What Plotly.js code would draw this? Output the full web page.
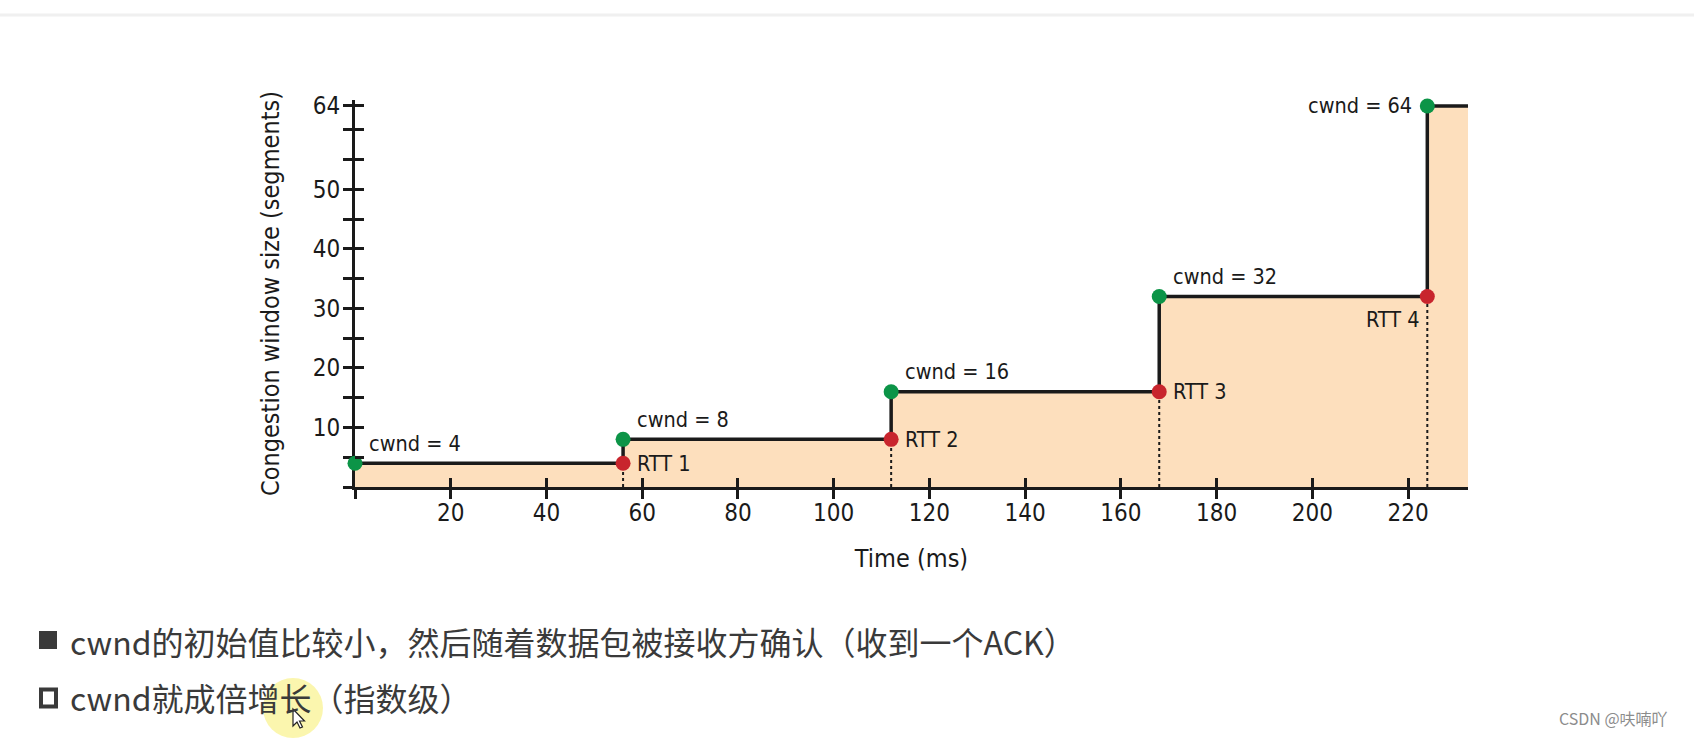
<!DOCTYPE html>
<html><head><meta charset="utf-8">
<script src="https://cdn.plot.ly/plotly-3.0.1.min.js"></script>
<style>html,body{margin:0;padding:0;background:#fff;}#chart{width:1694px;height:742px;}</style>
</head><body><div id="chart"></div>
<script>
// ---- data ----
const stepTimes = [0, 56, 112, 168, 224, 232.5];
const stepCwnd = [4, 8, 16, 32, 64, 64];
const cwndTimes = [0, 56, 112, 168, 224];
const cwndValues = [4, 8, 16, 32, 64];
const cwndLabels = ["cwnd = 4", "cwnd = 8", "cwnd = 16", "cwnd = 32", "cwnd = 64"];
const rttTimes = [56, 112, 168, 224];
const rttValues = [4, 8, 16, 32];
const rttLabels = ["RTT 1", "RTT 2", "RTT 3", "RTT 4"];
const xTickVals = [0, 20, 40, 60, 80, 100, 120, 140, 160, 180, 200, 220];
const xTickText = ["", "20", "40", "60", "80", "100", "120", "140", "160", "180", "200", "220"];
const yTickVals = [0, 5, 10, 15, 20, 25, 30, 35, 40, 45, 50, 55, 60, 64];
const yTickText = ["", "", "10", "", "20", "", "30", "", "40", "", "50", "", "", "64"];
const xTitle = "Time (ms)";
const yTitle = "Congestion window size (segments)";
const note1 = "cwnd的初始值比较小，然后随着数据包被接收方确认（收到一个ACK）";
const note2 = "cwnd就成倍增长（指数级）";
const watermark = "CSDN @呋喃吖";

// ---- layout geometry ----
const W = 1694, H = 742, ML = 355, MR = 226, MT = 100, MB = 255;
const PW = W - ML - MR, PH = H - MT - MB;
const px = v => (v - ML) / PW;
const py = v => (H - MB - v) / PH;
const xRange = [0, stepTimes[stepTimes.length - 1]];
const yRange = [0, 65];

const FONT = "'Liberation Sans Narrow','DejaVu Sans Condensed','Roboto Condensed',Roboto,sans-serif";
const CJK = "'Noto Sans CJK SC','Noto Sans',sans-serif";
const INK = "#1a1a1a";
const GREEN = "#0c9447";
const RED = "#c8252d";

const traces = [
  { // filled step area
    x: stepTimes, y: stepCwnd, xaxis: 'x', yaxis: 'y',
    type: 'scatter', mode: 'lines', line: { shape: 'hv', color: INK, width: 3.5 },
    fill: 'tozeroy', fillcolor: '#fddfbd', hoverinfo: 'skip', cliponaxis: false
  },
  { // dotted RTT guides
    x: rttTimes.flatMap(t => [t, t, null]),
    y: rttValues.flatMap(v => [0, v, null]),
    xaxis: 'x', yaxis: 'y', type: 'scatter', mode: 'lines',
    line: { color: INK, width: 2, dash: 'dot' }, hoverinfo: 'skip'
  },
  { // red RTT points
    x: rttTimes, y: rttValues, xaxis: 'x2', yaxis: 'y2', type: 'scatter', mode: 'markers',
    marker: { color: RED, size: 15 }, cliponaxis: false, hoverinfo: 'skip'
  },
  { // green cwnd points
    x: cwndTimes, y: cwndValues, xaxis: 'x2', yaxis: 'y2', type: 'scatter', mode: 'markers',
    marker: { color: GREEN, size: 15 }, cliponaxis: false, hoverinfo: 'skip'
  }
];

const annotations = [];
cwndTimes.forEach((t, i) => {
  const last = i === cwndTimes.length - 1;
  annotations.push({
    x: t, y: cwndValues[i], xref: 'x2', yref: 'y2', text: cwndLabels[i], showarrow: false,
    xanchor: last ? 'right' : 'left', yanchor: 'middle',
    xshift: last ? -13 : 12, yshift: last ? 0 : 20,
    font: { family: FONT, size: 21.5, color: INK }
  });
});
rttTimes.forEach((t, i) => {
  const last = i === rttTimes.length - 1;
  annotations.push({
    x: t, y: rttValues[i], xref: 'x2', yref: 'y2', text: rttLabels[i], showarrow: false,
    xanchor: last ? 'right' : 'left', yanchor: 'middle',
    xshift: last ? -5 : 12, yshift: last ? -23 : 0,
    font: { family: FONT, size: 21.5, color: INK }
  });
});
annotations.push(
  { xref: 'paper', yref: 'paper', x: px(68), y: py(641), xanchor: 'left', yanchor: 'middle',
    text: note1, showarrow: false, font: { family: CJK, size: 32, color: '#3a3a3a' } },
  { xref: 'paper', yref: 'paper', x: px(68), y: py(697), xanchor: 'left', yanchor: 'middle',
    text: note2, showarrow: false, font: { family: CJK, size: 32, color: '#3a3a3a' } },
  { xref: 'paper', yref: 'paper', x: px(1670), y: py(718), xanchor: 'right', yanchor: 'middle',
    text: watermark, showarrow: false, font: { family: CJK, size: 16, color: '#8c8c8c' } }
);

// mouse cursor outline (pixel offsets from its tip)
const cursorTip = [293, 709];
const cursorPts = [[0,0],[0,17],[4,13],[7,19],[9.5,18],[6.5,12],[11.5,12]];
const cursorPath = 'M ' + cursorPts.map(p => px(cursorTip[0] + p[0]) + ',' + py(cursorTip[1] + p[1])).join(' L ') + ' Z';

const shapes = [
  { type: 'line', xref: 'paper', yref: 'paper', x0: px(0), x1: px(W), y0: py(15), y1: py(15),
    line: { color: '#f0f0f0', width: 3 }, layer: 'below' },
  { type: 'circle', xref: 'paper', yref: 'paper', x0: px(263), x1: px(323), y0: py(678), y1: py(738),
    fillcolor: 'rgba(248,240,120,0.6)', line: { width: 0 }, layer: 'below' },
  { type: 'rect', xref: 'paper', yref: 'paper', x0: px(39), x1: px(57), y0: py(631), y1: py(649),
    fillcolor: '#3a3a3a', line: { width: 0 } },
  { type: 'rect', xref: 'paper', yref: 'paper', x0: px(41), x1: px(56), y0: py(689.5), y1: py(706.5),
    fillcolor: 'rgba(0,0,0,0)', line: { color: '#3a3a3a', width: 4 } },
  { type: 'path', xref: 'paper', yref: 'paper', path: cursorPath,
    fillcolor: '#ffffff', line: { color: '#222222', width: 1.2 } }
];

const axCommon = { showgrid: false, zeroline: false, fixedrange: true };
const layout = {
  width: W, height: H, margin: { l: ML, r: MR, t: MT, b: MB },
  paper_bgcolor: '#ffffff', plot_bgcolor: 'rgba(0,0,0,0)', showlegend: false,
  font: { family: FONT, color: INK },
  xaxis: Object.assign({}, axCommon, {
    range: xRange, domain: [0, 1], anchor: 'y',
    showline: true, linecolor: INK, linewidth: 3,
    ticks: 'outside', ticklen: 9, tickwidth: 3, tickcolor: INK,
    tickmode: 'array', tickvals: xTickVals, ticktext: xTickText,
    tickfont: { family: FONT, size: 24, color: INK }, ticklabelstandoff: -7,
    title: { text: xTitle, font: { family: FONT, size: 25, color: INK }, standoff: 24 }
  }),
  yaxis: Object.assign({}, axCommon, {
    range: yRange, domain: [0, 1], anchor: 'x',
    showline: true, linecolor: INK, linewidth: 3,
    ticks: 'outside', ticklen: 9, tickwidth: 3, tickcolor: INK,
    tickmode: 'array', tickvals: yTickVals, ticktext: yTickText,
    tickfont: { family: FONT, size: 24, color: INK }, ticklabelstandoff: -2,
    title: { text: yTitle, font: { family: FONT, size: 25, color: INK }, standoff: 26 }
  }),
  xaxis2: Object.assign({}, axCommon, {
    range: xRange, domain: [0, 1], anchor: 'y2', showline: false,
    ticks: 'inside', ticklen: 9, tickwidth: 3, tickcolor: INK,
    tickmode: 'array', tickvals: xTickVals, showticklabels: false
  }),
  yaxis2: Object.assign({}, axCommon, {
    range: yRange, domain: [0, 1], anchor: 'x2', showline: false,
    ticks: 'inside', ticklen: 9, tickwidth: 3, tickcolor: INK,
    tickmode: 'array', tickvals: yTickVals, showticklabels: false
  }),
  annotations: annotations, shapes: shapes
};

Plotly.newPlot('chart', traces, layout, { displayModeBar: false, staticPlot: true });
</script>
</body></html>
